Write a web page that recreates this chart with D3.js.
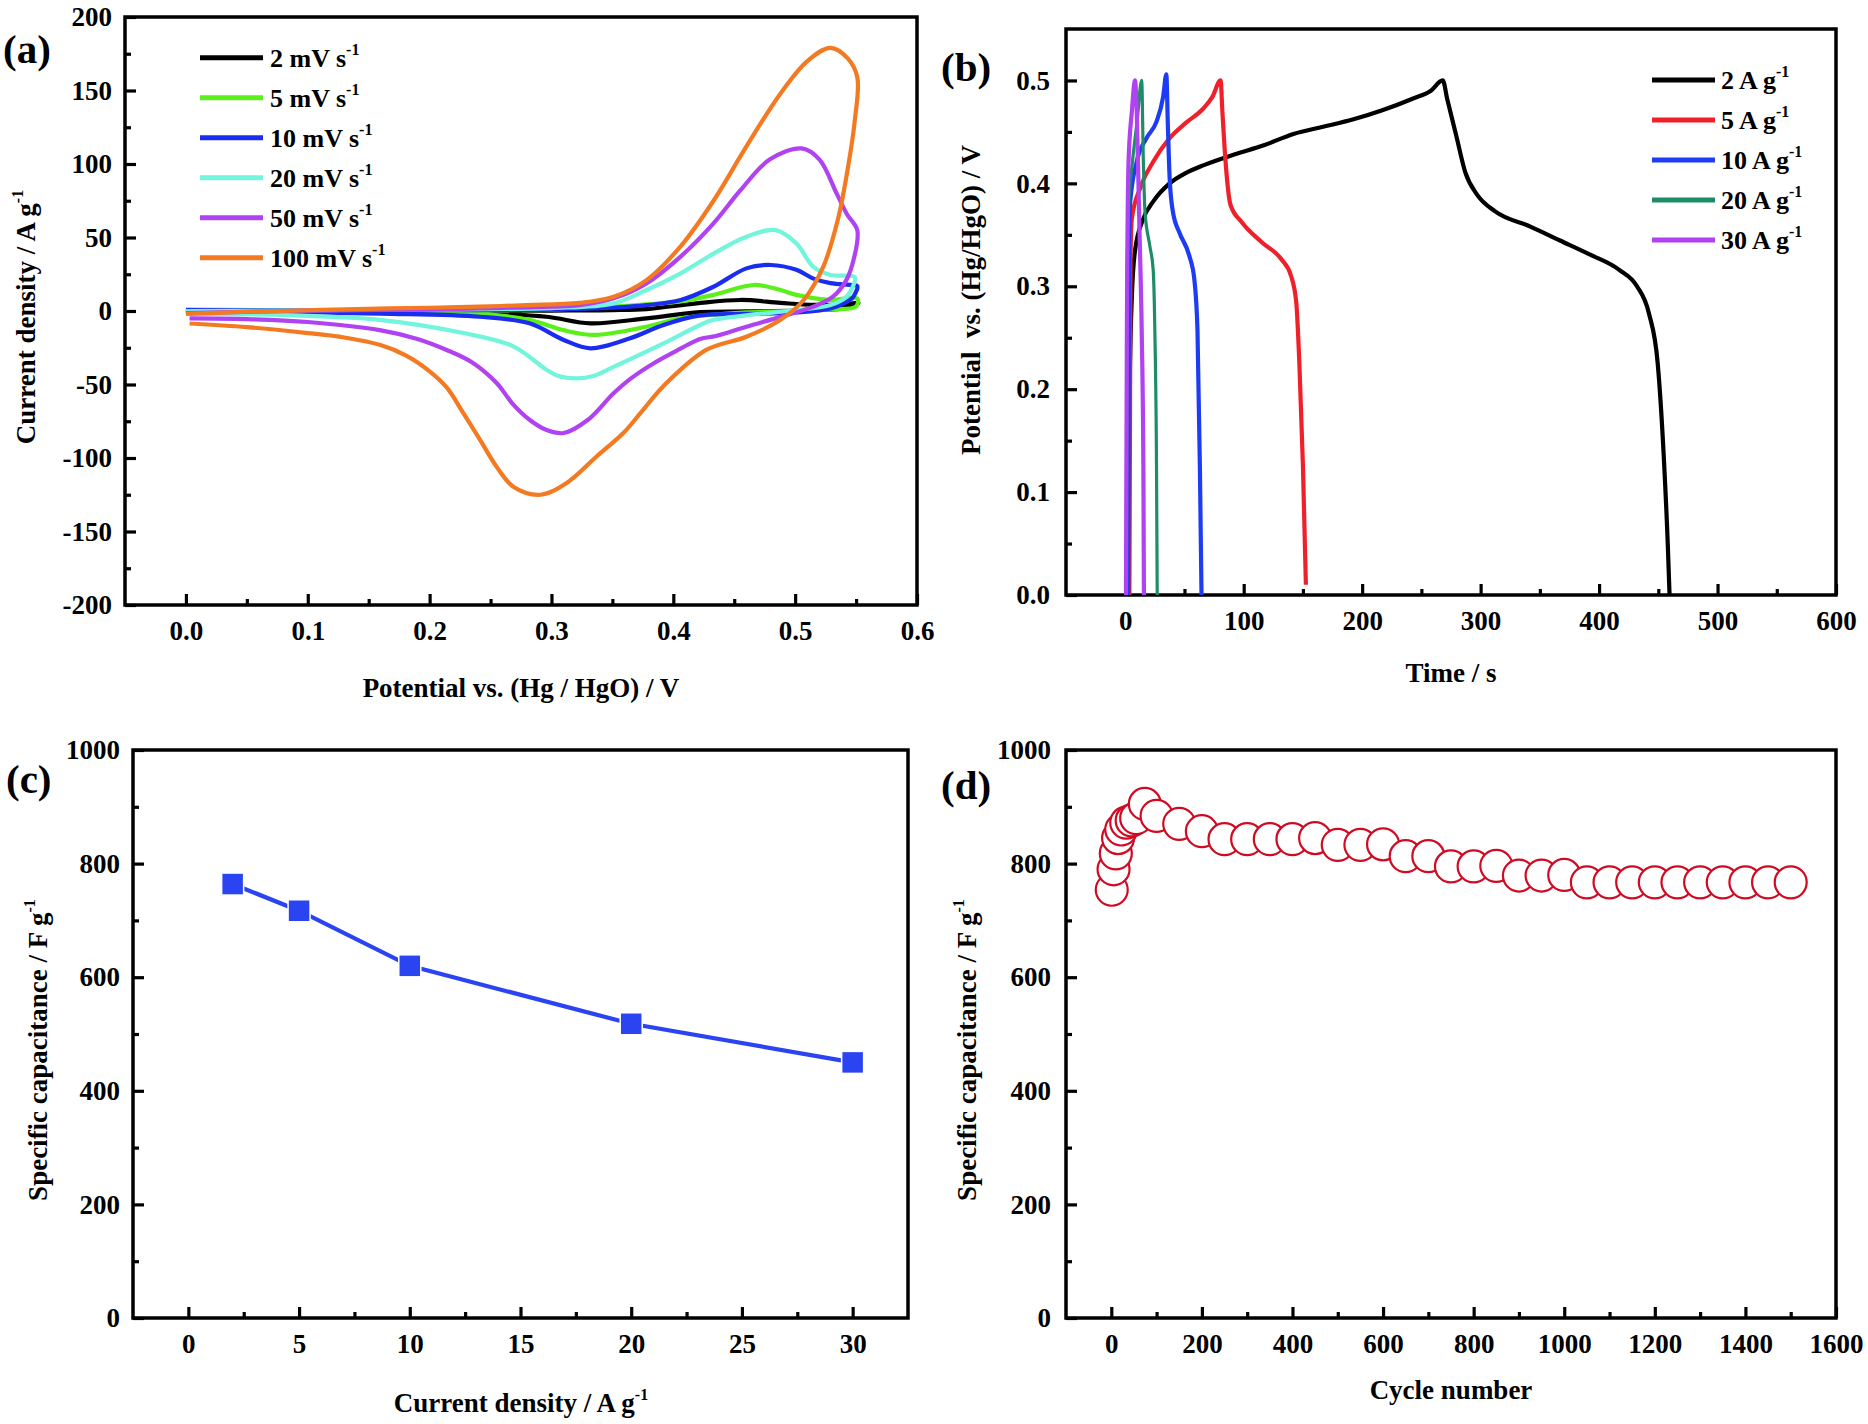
<!DOCTYPE html>
<html><head><meta charset="utf-8">
<script src="https://cdn.jsdelivr.net/npm/d3@7"></script>
<style>
body{margin:0;background:#fff}
svg{display:block}
text{font-family:"Liberation Serif","Times New Roman",serif;font-weight:bold;fill:#000}
</style>
</head><body>
<svg id="fig" width="1868" height="1424"></svg>
<script>
// ---------- (a) CV data : [potential V, current density A/g] ----------
const cvLabels = ["2", "5", "10", "20", "50", "100"];
const cvColors = ["#000000", "#5cf01a", "#1a2cf0", "#72f5dc", "#b042f2", "#f47a22"];
const cv2 = [[0,0],[0.15,0],[0.3,0.3],[0.35,0.6],[0.378,1.3],[0.419,5.2],[0.455,7.5],[0.488,5.5],[0.515,4.2],[0.54,4.5],[0.552,5.5],
  [0.542,2],[0.501,0.3],[0.46,-0.3],[0.422,-0.8],[0.378,-5],[0.332,-8.4],[0.296,-3.9],[0.241,-1.6],[0.14,-0.5],[0.003,0]];
const cv5 = [[0,0],[0.2,0.5],[0.3,1],[0.351,3],[0.378,4.5],[0.406,6.5],[0.433,11],[0.466,17.7],[0.485,15],[0.501,11],[0.529,7.5],[0.551,8.5],
  [0.55,3],[0.53,1],[0.501,0],[0.46,-1],[0.406,-5],[0.378,-10.7],[0.3345,-16.3],[0.31,-13],[0.282,-6],[0.241,-2],[0.15,-0.5],[0.003,0]];
const cv10 = [[0,0.8],[0.1,0.6],[0.2,0.6],[0.3,1],[0.351,2.3],[0.378,4],[0.406,7.5],[0.433,16.5],[0.46,29],[0.48,31.3],[0.501,28],[0.515,22],[0.529,19],[0.5465,17.7],[0.551,17],
  [0.548,10],[0.545,7.5],[0.529,1.8],[0.501,-1],[0.46,-2],[0.422,-3],[0.392,-9.5],[0.3645,-18.6],[0.332,-25.4],[0.31,-19.7],[0.282,-8.4],[0.241,-3.9],[0.159,-1.8],[0.003,0]];
const cv20 = [[0,0],[0.1,0.5],[0.2,1],[0.3,2],[0.351,5.2],[0.378,14.3],[0.406,25.6],[0.433,39],[0.46,50.5],[0.484,55],[0.501,46],[0.515,30],[0.529,24.5],[0.549,23],
  [0.548,18],[0.542,9.7],[0.529,4],[0.501,0.7],[0.46,-3],[0.433,-6],[0.422,-9.5],[0.392,-22],[0.351,-38],[0.335,-44],[0.3207,-45.8],[0.305,-44],[0.296,-40],[0.2687,-24],[0.2277,-15],[0.159,-6],[0.077,-2.7],[0.003,-2]];
const cv50 = [[0,-1.5],[0.1,0.2],[0.2,1],[0.241,1.8],[0.3,3],[0.323,4],[0.351,8.6],[0.378,18.8],[0.406,37],[0.433,59.6],[0.455,82],[0.479,103],[0.5055,110.6],[0.52,103],[0.534,80],[0.5424,66],[0.551,55],
  [0.548,35],[0.542,21],[0.531,9.7],[0.515,3],[0.488,-4],[0.46,-10.7],[0.435,-17],[0.422,-19],[0.405,-26],[0.385,-35],[0.365,-46],[0.351,-56],[0.33,-74],[0.31,-83],[0.296,-81],[0.282,-74],[0.268,-63],[0.255,-49],[0.235,-35],[0.214,-26.5],[0.19,-19],[0.159,-13],[0.1,-7.5],[0.05,-5.5],[0.003,-5]];
const cv100 = [[0,-2],[0.05,-0.5],[0.1,0.5],[0.15,1.5],[0.2,2.2],[0.241,3],[0.28,4],[0.323,5.5],[0.351,9.7],[0.378,21],[0.406,44],[0.433,75],[0.46,112],[0.488,148],[0.51,170],[0.529,179],[0.543,172],[0.551,159],
  [0.549,130],[0.543,96],[0.535,62],[0.523,30],[0.507,7.5],[0.488,-6],[0.46,-17.5],[0.427,-26.5],[0.392,-51],[0.373,-69.5],[0.359,-83],[0.337,-99],[0.3125,-117],[0.291,-125],[0.2687,-119.5],[0.255,-106],[0.2414,-87.7],[0.2277,-69.5],[0.214,-52],[0.2,-41],[0.18,-30],[0.159,-23],[0.13,-18],[0.1,-15],[0.05,-11],[0.003,-8.5]];
const cvSeries = [cv2, cv5, cv10, cv20, cv50, cv100];

// ---------- (b) GCD data : [time s, potential V] ----------
const gcdLabels = ["2", "5", "10", "20", "30"];
const gcdColors = ["#000000", "#f0202a", "#1f3cf5", "#1e8c68", "#b042f2"];
const gcd2 = [[2.5,0],[3,0.12],[3.6,0.19],[5.6,0.29],[8.3,0.335],[15,0.365],[24,0.383],[37.5,0.4],[51,0.41],[67,0.418],[92,0.428],[117,0.437],[142,0.448],[167,0.455],[192,0.462],[217,0.471],[242,0.482],[258,0.49],[268,0.5],
  [272,0.481],[279.5,0.446],[287,0.411],[297,0.389],[312,0.373],[342,0.358],[367,0.3445],[392,0.331],[417,0.316],[432,0.3],[442,0.274],[449.5,0.225],[454.5,0.137],[458,0.049],[459.5,0]];
const gcd5 = [[3.5,0],[4.5,0.33],[5.6,0.366],[12.5,0.395],[23.6,0.421],[37.5,0.444],[51.4,0.459],[65.3,0.472],[73.6,0.484],[80.5,0.5],
  [82,0.47],[84.7,0.421],[88.9,0.379],[98.6,0.362],[115,0.343],[132,0.326],[140,0.31],[144.4,0.284],[147,0.225],[150,0.126],[152.5,0.01]];
const gcd10 = [[2.5,0],[3.2,0.34],[4.2,0.382],[9.7,0.421],[18,0.444],[26.4,0.46],[32,0.484],[34.7,0.506],
  [36,0.456],[37.5,0.405],[40.3,0.372],[45.8,0.352],[54,0.33],[58.3,0.307],[61,0.257],[63,0.126],[64.4,0]];
const gcd20 = [[1,0],[1.5,0.3],[3,0.38],[6,0.42],[10,0.46],[13.9,0.5],
  [15.3,0.421],[16.7,0.372],[20.8,0.339],[23.6,0.316],[25,0.257],[26.4,0.126],[27,0]];
const gcd30 = [[0.6,0],[1.4,0.257],[2.8,0.421],[5.6,0.47],[8.3,0.5],
  [9.7,0.47],[12,0.356],[13.9,0.257],[15.3,0.126],[15.8,0]];
const gcdSeries = [gcd2, gcd5, gcd10, gcd20, gcd30];

// ---------- (c) rate capability ----------
const rateCurrent = [2, 5, 10, 20, 30];
const rateCap = [764, 717, 620, 518, 450];

// ---------- (d) cycling ----------
const cycleNum = [1, 5, 10, 15, 22, 33, 45, 55, 74, 100, 150, 200, 250, 300, 350, 400, 450, 500, 550, 600, 650, 700, 750, 800, 850, 900, 950, 1000, 1050, 1100, 1150, 1200, 1250, 1300, 1350, 1400, 1450, 1500];
const cycleCap = [754, 790, 818, 845, 860, 872, 876, 880, 905, 884, 870, 857, 843, 843, 843, 843, 845, 833, 833, 834, 813, 813, 795, 795, 796, 779, 779, 780, 767, 767, 767, 767, 767, 767, 767, 767, 767, 767];

// ---------- drawing ----------
const svg = d3.select("#fig");
const TICK = 27;

function sup(textSel, main, s) {
  textSel.append("tspan").text(main);
  textSel.append("tspan").attr("font-size", 16).attr("dy", -12).text(s);
}
const hy = f => (d => f(d).replace("\u2212", "-"));

function frame(x, y, o) {
  const [x0, x1] = x.range(), [y0, y1] = y.range();
  const g = svg.append("g");
  const bx = g.append("g").attr("transform", `translate(0,${y0})`)
    .call(d3.axisBottom(x).tickValues(o.xMajor).tickSize(-11).tickPadding(16).tickFormat(hy(o.xFmt)));
  const bxm = g.append("g").attr("transform", `translate(0,${y0})`)
    .call(d3.axisBottom(x).tickValues(o.xMinor).tickSize(-6).tickFormat(""));
  const ly = g.append("g").attr("transform", `translate(${x0},0)`)
    .call(d3.axisLeft(y).tickValues(o.yMajor).tickSize(-11).tickPadding(o.yPad || 13).tickFormat(hy(o.yFmt)));
  const lym = g.append("g").attr("transform", `translate(${x0},0)`)
    .call(d3.axisLeft(y).tickValues(o.yMinor).tickSize(-6).tickFormat(""));
  [bx, bxm, ly, lym].forEach(a => {
    a.select(".domain").remove();
    a.selectAll("line").attr("stroke", "#000").attr("stroke-width", 3.2);
    a.selectAll("text").attr("font-size", TICK).attr("font-family", '"Liberation Serif",serif').attr("font-weight", "bold");
  });
  g.append("rect").attr("x", x0).attr("y", y1).attr("width", x1 - x0).attr("height", y0 - y1)
    .attr("fill", "none").attr("stroke", "#000").attr("stroke-width", 3.5);
  return g;
}

const steps = (a, b, s) => d3.range(0, Math.round((b - a) / s) + 1).map(i => +(a + i * s).toFixed(4));

// ===== (a) =====
const xA = d3.scaleLinear().domain([-0.05, 0.6]).range([125, 917]);
const yA = d3.scaleLinear().domain([-200, 200]).range([605, 17]);
frame(xA, yA, {
  xMajor: steps(0, 0.6, 0.1), xMinor: steps(0.05, 0.55, 0.1), xFmt: d3.format(".1f"),
  yMajor: steps(-200, 200, 50), yMinor: steps(-175, 175, 50), yFmt: d3.format("d")
});
const lineA = d3.line().x(d => xA(d[0])).y(d => yA(d[1])).curve(d3.curveCatmullRom.alpha(0.5));
svg.append("g").selectAll("path").data(cvSeries).join("path")
  .attr("d", lineA).attr("fill", "none").attr("stroke", (d, i) => cvColors[i])
  .attr("stroke-width", 4.2).attr("stroke-linejoin", "round");
const legA = svg.append("g");
cvLabels.forEach((lab, i) => {
  const yy = 57.7 + 40 * i;
  legA.append("line").attr("x1", 200).attr("x2", 263).attr("y1", yy).attr("y2", yy)
    .attr("stroke", cvColors[i]).attr("stroke-width", 5);
  sup(legA.append("text").attr("x", 270).attr("y", yy + 9).attr("font-size", 26), lab + " mV s", "-1");
});
svg.append("text").attr("x", 3).attr("y", 63).attr("font-size", 41).text("(a)");
svg.append("text").attr("x", 521).attr("y", 697).attr("text-anchor", "middle").attr("font-size", 27)
  .text("Potential vs. (Hg / HgO) / V");
sup(svg.append("text").attr("transform", "translate(35,317) rotate(-90)").attr("text-anchor", "middle").attr("font-size", 27),
  "Current density / A g", "-1");

// ===== (b) =====
const xB = d3.scaleLinear().domain([-50, 600]).range([1066, 1836]);
const yB = d3.scaleLinear().domain([0, 0.55]).range([595, 29]);
frame(xB, yB, {
  xMajor: steps(0, 600, 100), xMinor: steps(50, 550, 100), xFmt: d3.format("d"),
  yMajor: steps(0, 0.5, 0.1), yMinor: steps(0.05, 0.45, 0.1), yFmt: d3.format(".1f"), yPad: 16
});
const lineB = d3.line().x(d => xB(d[0])).y(d => yB(d[1])).curve(d3.curveMonotoneX);
svg.append("g").selectAll("path").data(gcdSeries).join("path")
  .attr("d", lineB).attr("fill", "none").attr("stroke", (d, i) => gcdColors[i])
  .attr("stroke-width", (d, i) => i === 3 ? 3.2 : 4.2).attr("stroke-linejoin", "round");
const legB = svg.append("g");
gcdLabels.forEach((lab, i) => {
  const yy = 80 + 40 * i;
  legB.append("line").attr("x1", 1652).attr("x2", 1715).attr("y1", yy).attr("y2", yy)
    .attr("stroke", gcdColors[i]).attr("stroke-width", 5);
  sup(legB.append("text").attr("x", 1721).attr("y", yy + 9).attr("font-size", 26), lab + " A g", "-1");
});
svg.append("text").attr("x", 941).attr("y", 81).attr("font-size", 41).text("(b)");
svg.append("text").attr("x", 1451).attr("y", 682).attr("text-anchor", "middle").attr("font-size", 27).text("Time / s");
svg.append("text").attr("transform", "translate(980,300) rotate(-90)").attr("text-anchor", "middle").attr("font-size", 27)
  .attr("xml:space", "preserve").style("white-space", "pre").text("Potential  vs. (Hg/HgO) / V");

// ===== (c) =====
const xC = d3.scaleLinear().domain([-2.5, 32.5]).range([133, 908]);
const yC = d3.scaleLinear().domain([0, 1000]).range([1318, 750]);
frame(xC, yC, {
  xMajor: steps(0, 30, 5), xMinor: steps(2.5, 27.5, 5), xFmt: d3.format("d"),
  yMajor: steps(0, 1000, 200), yMinor: steps(100, 900, 200), yFmt: d3.format("d")
});
const rateData = rateCurrent.map((c, i) => [c, rateCap[i]]);
svg.append("path").datum(rateData)
  .attr("d", d3.line().x(d => xC(d[0])).y(d => yC(d[1])))
  .attr("fill", "none").attr("stroke", "#2b44f2").attr("stroke-width", 4.2);
svg.append("g").selectAll("rect").data(rateData).join("rect")
  .attr("x", d => xC(d[0]) - 11).attr("y", d => yC(d[1]) - 11).attr("width", 22).attr("height", 22)
  .attr("fill", "#2b44f2").attr("stroke", "#fff").attr("stroke-width", 1.5);
svg.append("text").attr("x", 6).attr("y", 793).attr("font-size", 41).text("(c)");
sup(svg.append("text").attr("x", 521).attr("y", 1412).attr("text-anchor", "middle").attr("font-size", 27),
  "Current density / A g", "-1");
sup(svg.append("text").attr("transform", "translate(47,1050) rotate(-90)").attr("text-anchor", "middle").attr("font-size", 27),
  "Specific capacitance / F g", "-1");

// ===== (d) =====
const xD = d3.scaleLinear().domain([-100, 1600]).range([1066, 1836]);
const yD = d3.scaleLinear().domain([0, 1000]).range([1318, 750]);
frame(xD, yD, {
  xMajor: steps(0, 1600, 200), xMinor: steps(100, 1500, 200), xFmt: d3.format("d"),
  yMajor: steps(0, 1000, 200), yMinor: steps(100, 900, 200), yFmt: d3.format("d"), yPad: 15
});
svg.append("g").selectAll("circle").data(cycleNum.map((c, i) => [c, cycleCap[i]])).join("circle")
  .attr("cx", d => xD(d[0])).attr("cy", d => yD(d[1])).attr("r", 16)
  .attr("fill", "#fff").attr("stroke", "#cf0a22").attr("stroke-width", 2.2);
svg.append("text").attr("x", 941).attr("y", 799).attr("font-size", 41).text("(d)");
svg.append("text").attr("x", 1451).attr("y", 1399).attr("text-anchor", "middle").attr("font-size", 27).text("Cycle number");
sup(svg.append("text").attr("transform", "translate(976,1050) rotate(-90)").attr("text-anchor", "middle").attr("font-size", 27),
  "Specific capacitance / F g", "-1");
</script>
</body></html>
